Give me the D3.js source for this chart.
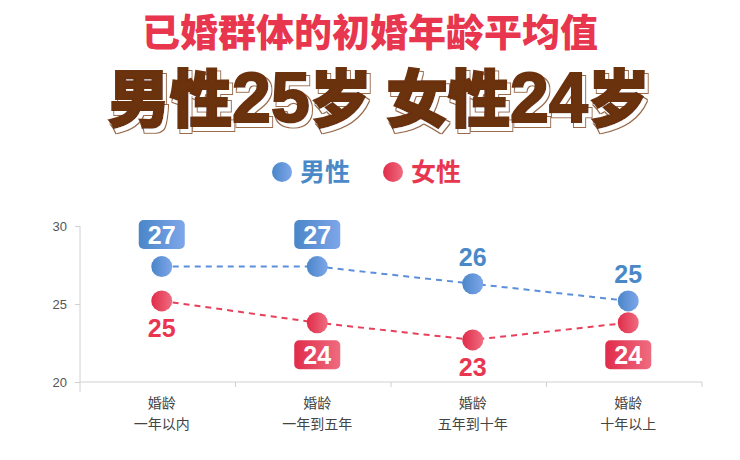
<!DOCTYPE html>
<html><head><meta charset="utf-8">
<script src="https://cdn.jsdelivr.net/npm/d3@7"></script>
<style>body{margin:0;background:#fff}svg{display:block}</style>
</head><body><svg id="c" width="740" height="460"></svg>
<script>
const categories = ["婚龄\n一年以内","婚龄\n一年到五年","婚龄\n五年到十年","婚龄\n十年以上"];
const maleValues = [27.4, 27.4, 26.3, 25.2];
const femaleValues = [25.2, 23.8, 22.7, 23.8];
const maleLabelBoxed = [true, true, false, false];
const femaleLabelBoxed = [false, true, false, true];
const yTicks = [20, 25, 30];
const seriesNames = ["男性","女性"];

const CJK = '"Noto Sans CJK SC","Noto Sans",sans-serif';
const LAT = '"Liberation Sans",Arial,sans-serif';

const svg = d3.select("#c");
const defs = svg.append("defs");
function grad(id, c1, c2){
  const g = defs.append("linearGradient").attr("id", id).attr("x1","0%").attr("x2","100%").attr("y1","0%").attr("y2","0%");
  g.append("stop").attr("offset","0%").attr("stop-color", c1);
  g.append("stop").attr("offset","100%").attr("stop-color", c2);
}
grad("gBlue","#4a86c8","#7ea6ea");
grad("gRed","#e02c4a","#ef6c80");
const blueText = "#4a89c8", redText = "#e8364f";

// 3D shadow filter for big title
const f = defs.append("filter").attr("id","shadow3d").attr("x","-5%").attr("y","-10%").attr("width","115%").attr("height","130%");
f.append("feOffset").attr("in","SourceAlpha").attr("dx",3).attr("dy",4).attr("result","off");
f.append("feMorphology").attr("in","off").attr("operator","dilate").attr("radius",1.2).attr("result","dil");
f.append("feFlood").attr("flood-color","#9a6a4a").attr("result","fb");
f.append("feComposite").attr("in","fb").attr("in2","dil").attr("operator","in").attr("result","outline");
f.append("feFlood").attr("flood-color","#ffffff").attr("result","fw");
f.append("feComposite").attr("in","fw").attr("in2","off").attr("operator","in").attr("result","white");
const fm = f.append("feMerge");
fm.append("feMergeNode").attr("in","outline");
fm.append("feMergeNode").attr("in","white");
fm.append("feMergeNode").attr("in","SourceGraphic");

// Titles
svg.append("text").attr("x",370).attr("y",46).attr("text-anchor","middle")
  .style("font-family",CJK).attr("font-size",38).attr("font-weight",900).attr("fill","#e8364f").text("已婚群体的初婚年龄平均值");
const t2parts = [["男性",CJK],["25",LAT],["岁 女性",CJK],["24",LAT],["岁",CJK]];
const t2 = svg.append("text").attr("x",379).attr("y",122).attr("text-anchor","middle")
  .attr("font-size",62).attr("font-weight",900).attr("fill","#6b300b")
  .attr("stroke","#6b300b").attr("stroke-width",2).attr("filter","url(#shadow3d)");
t2parts.forEach(p=>t2.append("tspan").style("font-family",p[1]).attr("font-size", p[1]===LAT?70:62).text(p[0]));

// Legend
const leg = [{name:seriesNames[0],x:282,fill:"url(#gBlue)",tc:blueText},{name:seriesNames[1],x:393,fill:"url(#gRed)",tc:redText}];
leg.forEach(l=>{
  svg.append("circle").attr("cx",l.x).attr("cy",172).attr("r",10).attr("fill",l.fill);
  svg.append("text").attr("x",l.x+18).attr("y",181).style("font-family",CJK).attr("font-size",25).attr("font-weight",700).attr("fill",l.tc).text(l.name);
});

// Scales
const x = d3.scaleBand().domain(categories).range([80,702]);
const y = d3.scaleLinear().domain([20,30]).range([382,226]);
const cx = c => x(c) + x.bandwidth()/2 + 4;

// Y axis
const gy = svg.append("g").attr("transform","translate(80,0)")
  .call(d3.axisLeft(y).tickValues(yTicks).tickSize(5).tickPadding(8));
gy.select(".domain").attr("d","M0,226V392").attr("stroke","#d0d0d0");
gy.selectAll(".tick line").attr("stroke","#d0d0d0");
gy.selectAll(".tick text").attr("font-size",13).attr("fill","#555").style("font-family",LAT);

// X axis
const gx = svg.append("g").attr("transform","translate(0,382)")
  .call(d3.axisBottom(x).tickSize(0).tickFormat(""));
gx.select(".domain").attr("d","M80,0H702").attr("stroke","#d0d0d0");
const bounds = d3.range(1, categories.length+1).map(i => 80 + i*x.step());
gx.selectAll(".sep").data(bounds).enter().append("line")
  .attr("x1",d=>d).attr("x2",d=>d).attr("y1",0).attr("y2",5).attr("stroke","#d0d0d0");
categories.forEach(c=>{
  const lines = c.split("\n");
  const t = svg.append("text").attr("text-anchor","middle").style("font-family",CJK).attr("font-size",14).attr("fill","#444");
  lines.forEach((ln,i)=>t.append("tspan").attr("x",cx(c)).attr("y",408+i*21).text(ln));
});

// Series
const series = [
  {vals:maleValues, boxed:maleLabelBoxed, line:"#5b8fdc", fill:"url(#gBlue)", tc:blueText, dir:-1},
  {vals:femaleValues, boxed:femaleLabelBoxed, line:"#e8405a", fill:"url(#gRed)", tc:redText, dir:1}
];
const lineGen = d3.line().x(d=>cx(d.c)).y(d=>y(d.v));
series.forEach(s=>{
  const pts = categories.map((c,i)=>({c, v:s.vals[i], boxed:s.boxed[i]}));
  svg.append("path").datum(pts).attr("d",lineGen).attr("fill","none")
    .attr("stroke",s.line).attr("stroke-width",2).attr("stroke-dasharray","6,5");
  svg.selectAll(null).data(pts).enter().append("circle")
    .attr("cx",d=>cx(d.c)).attr("cy",d=>y(d.v)).attr("r",10.5).attr("fill",s.fill);
  pts.forEach(d=>{
    const px = cx(d.c), py = y(d.v);
    const label = String(Math.round(d.v));
    if (d.boxed){
      const bc = py + s.dir*32;
      svg.append("rect").attr("x",px-23).attr("y",bc-14.5).attr("width",46).attr("height",29)
        .attr("rx",5).attr("fill",s.fill);
      svg.append("text").attr("x",px).attr("y",bc+9).attr("text-anchor","middle")
        .attr("font-size",25).attr("font-weight",700).attr("fill","#fff")
        .style("font-family",LAT).text(label);
    } else {
      const tc = py + s.dir*27;
      svg.append("text").attr("x",px).attr("y",tc+9).attr("text-anchor","middle")
        .attr("font-size",25).attr("font-weight",700).attr("fill",s.tc)
        .style("font-family",LAT).text(label);
    }
  });
});
</script></body></html>
